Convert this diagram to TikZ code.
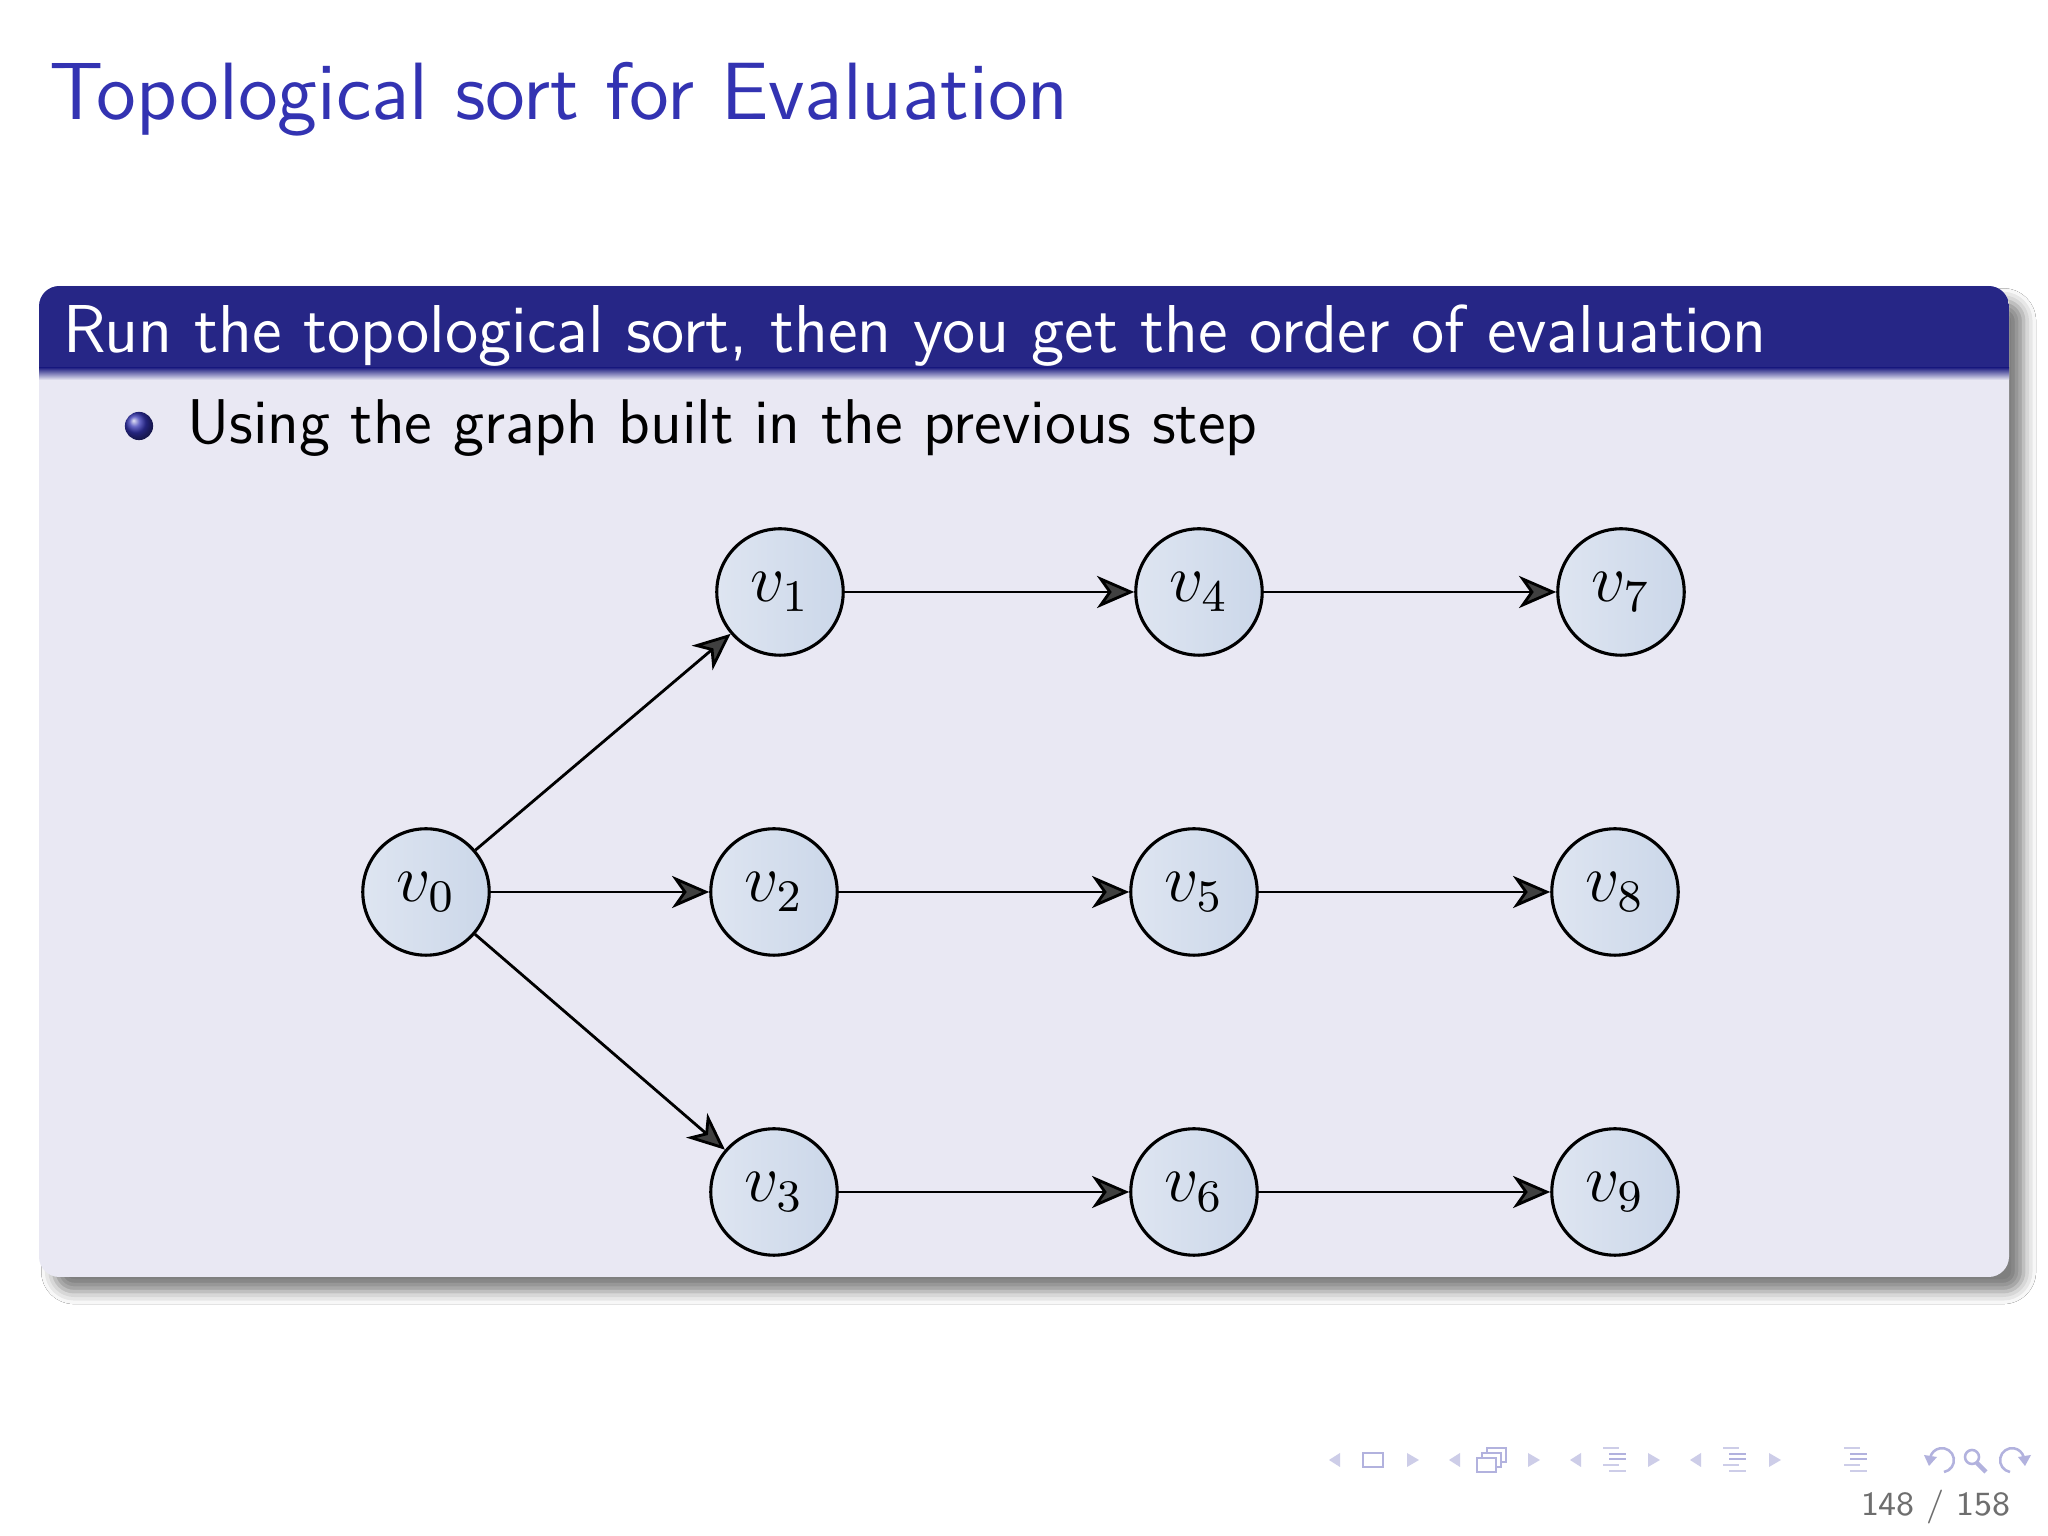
\documentclass[tikz,border=0pt]{standalone}
\usepackage{fontspec}
\usetikzlibrary{arrows.meta,shadows.blur}
\definecolor{titleblue}{RGB}{51,51,178}
\definecolor{headbg}{RGB}{38,38,134}
\definecolor{bodybg}{RGB}{233,232,243}
\definecolor{nodeL}{RGB}{222,229,241}
\definecolor{nodeR}{RGB}{203,215,233}
\definecolor{navc}{RGB}{178,178,222}
\definecolor{navl}{RGB}{205,205,232}
\definecolor{pagegray}{RGB}{110,110,110}
\tikzset{
  vnode/.style={circle, draw=black, line width=0.55pt, minimum size=22.4pt, inner sep=0pt,
    left color=nodeL, right color=nodeR, font=\fontsize{12}{14}\selectfont},
  arr/.style={-{Stealth[length=6.6pt,width=5.7pt,inset=2pt]}, line width=0.5pt},
  navline/.style={draw=navc, line width=0.45pt},
}
\begin{document}
\begin{tikzpicture}[x=0.17715pt,y=-0.17715pt]
\useasboundingbox[fill=white] (0,0) rectangle (2048,1536);
% title
\node[anchor=base west, inner sep=0pt, text=titleblue, font=\fontsize{14.4}{17}\selectfont\sffamily] (title) at (48,120) {Topological sort for Evaluation};
% block
\path[fill=bodybg, rounded corners=3.6pt, blur shadow={shadow xshift=2.6pt, shadow yshift=-2.6pt, shadow blur radius=2.2pt, shadow opacity=50}] (39,286) rectangle (2009,1277);
\begin{scope}
\clip[rounded corners=3.6pt] (39,286) rectangle (2009,1277);
\fill[headbg] (39,286) rectangle (2009,369);
\shade[top color=headbg, bottom color=bodybg] (39,368) rectangle (2009,380);
\end{scope}
\node[anchor=base west, inner sep=0pt, text=white, font=\fontsize{12}{15}\selectfont\sffamily] (head) at (62,353) {Run the topological sort, then you get the order of evaluation};
% bullet
\shade[ball color=titleblue] (139,426) circle[radius=2.5pt];
\node[anchor=base west, inner sep=0pt, text=black, font=\fontsize{11.2}{13}\selectfont\sffamily] (item) at (186,444) {Using the graph built in the previous step};
% graph
\node[vnode] (v0) at (426,892) {$v_0$};
\node[vnode] (v1) at (780,592) {$v_1$};
\node[vnode] (v2) at (774,892) {$v_2$};
\node[vnode] (v3) at (774,1192) {$v_3$};
\node[vnode] (v4) at (1199,592) {$v_4$};
\node[vnode] (v5) at (1194,892) {$v_5$};
\node[vnode] (v6) at (1194,1192) {$v_6$};
\node[vnode] (v7) at (1621,592) {$v_7$};
\node[vnode] (v8) at (1615,892) {$v_8$};
\node[vnode] (v9) at (1615,1192) {$v_9$};
\draw[arr] (v0) -- (v1);
\draw[arr] (v0) -- (v2);
\draw[arr] (v0) -- (v3);
\draw[arr] (v1) -- (v4);
\draw[arr] (v4) -- (v7);
\draw[arr] (v2) -- (v5);
\draw[arr] (v5) -- (v8);
\draw[arr] (v3) -- (v6);
\draw[arr] (v6) -- (v9);
% navigation symbols
\foreach \x in {1329,1449,1570,1690} \fill[navl] (\x,1460) -- (\x+11,1453) -- (\x+11,1467) -- cycle;
\foreach \x in {1407,1528,1648,1769} \fill[navl] (\x+12,1460) -- (\x,1453) -- (\x,1467) -- cycle;
\draw[navline] (1363,1453) rectangle (1383,1467);
\draw[navline, fill=white] (1487,1448) rectangle (1506,1462);
\draw[navline, fill=white] (1482,1453) rectangle (1501,1467);
\draw[navline, fill=white] (1477,1458) rectangle (1496,1472);
\foreach \bx in {1603,1723,1844} {
  \fill[navl] (\bx,1447) rectangle (\bx+16,1449);
  \fill[navc] (\bx+6,1453) rectangle (\bx+23,1455);
  \fill[navc] (\bx+6,1458) rectangle (\bx+23,1460);
  \fill[navl] (\bx,1464) rectangle (\bx+16,1466);
  \fill[navl] (\bx+6,1470) rectangle (\bx+23,1472);
}
\draw[navline] (1944,1472) arc[start angle=80, end angle=-165, radius=12];
\fill[navc] (1929,1466) -- (1924,1455) -- (1937,1457) -- cycle;
\draw[navline] (1972,1457) circle[radius=7];
\draw[navline, line width=0.8pt] (1977,1463) -- (1986,1472);
\draw[navline] (2010,1472) arc[start angle=-260, end angle=-15, radius=12];
\fill[navc] (2025,1466) -- (2018,1457) -- (2031,1455) -- cycle;
\node[anchor=base east, inner sep=0pt, text=pagegray, font=\fontsize{6}{8}\selectfont\sffamily] (page) at (2012,1516) {148 / 158};
\end{tikzpicture}
\end{document}
